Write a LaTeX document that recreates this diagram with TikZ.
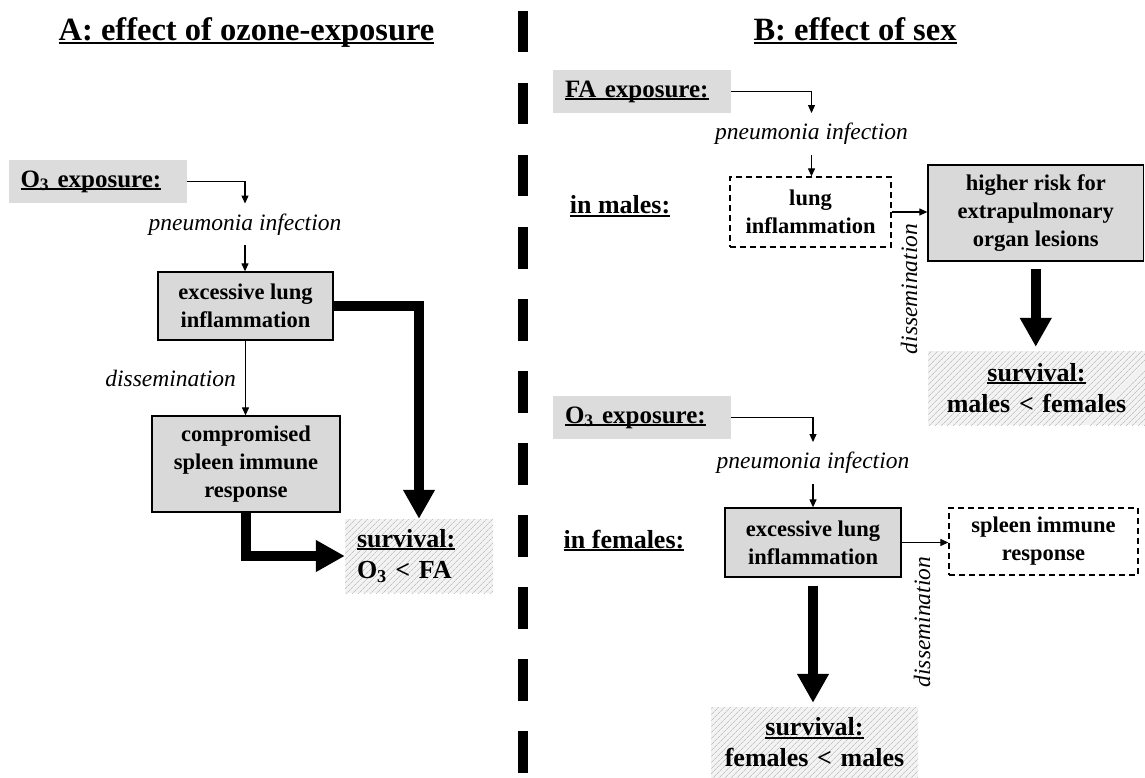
\documentclass[tikz,border=0pt]{standalone}
\usepackage{fontspec}
\setmainfont{Liberation Serif}
\usetikzlibrary{arrows.meta,patterns.meta}
\definecolor{labgray}{RGB}{220,220,220}
\definecolor{boxgray}{RGB}{217,217,217}
\definecolor{hatchbg}{RGB}{243,243,243}
\definecolor{hatchline}{RGB}{196,196,196}
\newcommand\ulx[1]{\setbox0=\hbox{#1}\rlap{\rule[-0.1em]{\wd0}{0.075em}}\box0}
\begin{document}
\begin{tikzpicture}[x=1pt,y=-1pt,
  title/.style={font=\bfseries\fontsize{32.5}{38}\selectfont, inner sep=0pt},
  labbox/.style={fill=labgray, draw=none, minimum height=43pt, text width=154pt,
    inner xsep=12pt, inner ysep=0pt, align=left, font=\bfseries\fontsize{25}{30}\selectfont},
  lab/.style={font=\bfseries\fontsize{26}{31}\selectfont, inner sep=0pt},
  gbox/.style={draw=black, line width=1.3pt, fill=boxgray, align=center, inner sep=0pt,
    font=\bfseries\fontsize{22.5}{28}\selectfont},
  dbox/.style={draw=black, line width=1.3pt, dash pattern=on 6pt off 4pt, fill=white,
    align=center, inner sep=0pt, font=\bfseries\fontsize{22.5}{28}\selectfont},
  survbox/.style={fill=hatchbg, postaction={pattern={Lines[angle=45,distance=4pt,line width=0.8pt]}, pattern color=hatchline},
    align=center, inner xsep=12pt, inner ysep=0pt, font=\bfseries\fontsize{26}{31}\selectfont},
  pn/.style={font=\itshape\fontsize{23.5}{28}\selectfont, inner xsep=0pt, inner ysep=10pt},
  diss/.style={font=\itshape\fontsize{23.5}{28}\selectfont, inner sep=0pt},
  thinarrow/.style={line width=1.2pt, -{Triangle[length=8pt,width=7pt]}},
  bigarrow/.style={line width=9.5pt, -{Triangle[length=29pt,width=30pt]}},
  divider/.style={line width=10pt, dash pattern=on 41.5pt off 30.5pt}
]
\useasboundingbox (0,0) rectangle (1145,778);

% titles and divider
\node[title, anchor=base] (tA) at (246.5,41) {\ulx{A: effect of ozone-exposure}};
\node[title, anchor=base] (tB) at (855,41) {\ulx{B: effect of sex}};
\draw[divider] (523,11) -- (523,778);

% ---------- panel A ----------
\node[labbox] (o3A) at (97.5,181.5) {\ulx{O\textsubscript{3} exposure:}};
\node[pn] (pnA) at (245,224.5) {pneumonia infection};
\node[gbox, minimum width=175pt, minimum height=68pt] (exA) at (245.5,306) {excessive lung\\inflammation};
\node[gbox, minimum width=188pt, minimum height=96pt] (cmA) at (246,464) {compromised\\spleen immune\\response};
\node[survbox, text width=124pt, align=left, minimum height=74pt] (svA) at (419,556) {\ulx{survival:}\\O\textsubscript{3} < FA};

\draw[thinarrow] (o3A.east) -| (pnA.north);
\draw[thinarrow] (pnA.south) -- (pnA.south |- exA.north);
\draw[thinarrow] (exA.south) -- node[diss, left=9pt] {dissemination} (exA.south |- cmA.north);
\draw[bigarrow] (cmA.south) |- (svA.west);
\draw[bigarrow] (exA.east) -| (svA.north);

% ---------- panel B: males ----------
\node[labbox] (faB) at (642,91.5) {\ulx{FA exposure:}};
\node[pn] (pnB1) at (811.5,134) {pneumonia infection};
\node[dbox, minimum width=161pt, minimum height=70pt] (lgM) at (810.5,212) {lung\\inflammation};
\node[lab, anchor=base] (inM) at (620,214) {\ulx{in males:}};
\node[gbox, minimum width=215.5pt, minimum height=96pt] (hrM) at (1035.75,213) {higher risk for\\extrapulmonary\\organ lesions};
\node[diss, rotate=90] (dsM) at (909,289) {dissemination};
\node[survbox, text width=193pt, minimum height=74pt] (svM) at (1036.5,388) {\ulx{survival:}\\males < females};

\draw[thinarrow] (faB.east) -| (pnB1.north);
\draw[thinarrow] (pnB1.south) -- (pnB1.south |- lgM.north);
\draw[thinarrow] (lgM.east) -- (lgM.east -| hrM.west);
\draw[bigarrow, shorten <=7pt, shorten >=4pt] (hrM.south) -- (hrM.south |- svM.north);

% ---------- panel B: females ----------
\node[labbox] (o3B) at (642,417.5) {\ulx{O\textsubscript{3} exposure:}};
\node[pn] (pnB2) at (813,463) {pneumonia infection};
\node[gbox, minimum width=176pt, minimum height=69pt] (exB) at (813,542.5) {excessive lung\\inflammation};
\node[lab, anchor=base] (inF) at (624,548) {\ulx{in females:}};
\node[dbox, minimum width=189pt, minimum height=67pt] (spB) at (1043.5,541.5) {spleen immune\\response};
\node[diss, rotate=90] (dsF) at (922,622) {dissemination};
\node[survbox, text width=183pt, minimum height=71pt] (svF) at (814.5,742.5) {\ulx{survival:}\\females < males};

\draw[thinarrow] (o3B.east) -| (pnB2.north);
\draw[thinarrow] (pnB2.south) -- (pnB2.south |- exB.north);
\draw[thinarrow] (exB.east) -- (exB.east -| spB.west);
\draw[bigarrow, shorten <=8pt, shorten >=4pt] (exB.south) -- (exB.south |- svF.north);
\end{tikzpicture}
\end{document}
